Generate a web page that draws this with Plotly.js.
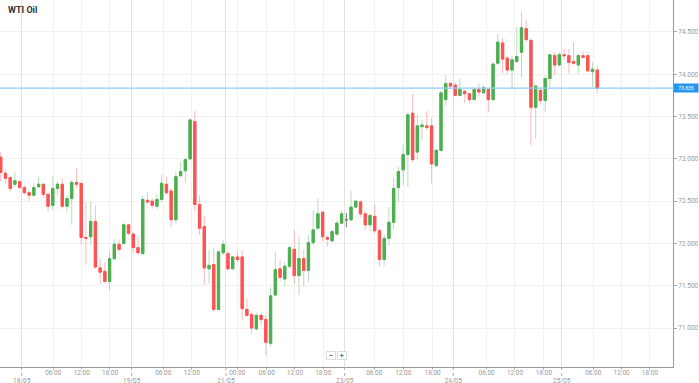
<!DOCTYPE html>
<html>
<head>
<meta charset="utf-8">
<script src="https://cdn.plot.ly/plotly-3.0.1.min.js"></script>
<style>html,body{margin:0;padding:0;background:#fff;}#chart{width:699px;height:383px;}</style>
</head>
<body>
<div id="chart"></div>
<script>
// WTI Oil hourly candles
const openP = [73.02,72.83,72.78,72.70,72.73,72.66,72.60,72.57,72.67,72.70,
72.58,72.45,72.65,72.70,72.44,72.53,72.72,72.71,72.07,72.08,
72.26,71.71,71.67,71.55,71.82,71.99,72.00,72.22,72.11,71.95,
71.88,72.51,72.50,72.44,72.52,72.70,72.62,72.28,72.80,72.86,
73.00,73.44,72.46,72.20,71.70,71.75,71.22,71.89,71.88,71.70,
71.84,71.84,71.22,71.16,70.99,71.15,71.10,70.82,71.39,71.70,
71.58,71.73,71.93,71.62,71.82,71.68,72.01,72.18,72.37,72.07,
72.03,72.11,72.24,72.28,72.28,72.43,72.49,72.35,72.22,72.32,
72.15,71.81,72.06,72.25,72.66,72.87,73.05,73.54,73.08,73.38,
73.39,73.39,72.92,73.10,73.70,73.89,73.87,73.75,73.80,73.77,
73.70,73.82,73.78,73.82,73.70,74.13,74.37,74.19,74.05,74.15,
74.26,74.54,74.40,73.61,73.81,73.69,73.95,74.22,74.11,74.23,
74.22,74.15,74.11,74.22,74.22,74.03,74.05];
const highP = [73.08,72.87,72.79,72.84,72.75,72.69,72.63,72.71,72.79,72.71,
72.59,72.79,72.73,72.77,72.57,72.75,72.89,72.72,72.49,72.49,
72.45,71.82,71.78,71.90,72.05,72.05,72.24,72.22,72.14,72.08,
72.56,72.60,72.53,72.58,72.81,72.79,72.65,72.85,72.96,73.01,
73.48,73.57,72.57,72.33,71.92,71.94,71.92,72.04,71.92,71.85,
71.90,71.92,71.35,71.19,71.18,71.18,71.15,71.48,71.90,71.80,
71.78,71.97,72.16,72.08,71.92,72.10,72.39,72.53,72.37,72.10,
72.16,72.27,72.39,72.36,72.62,72.51,72.51,72.39,72.35,72.46,
72.17,72.10,72.43,72.78,72.91,73.16,73.55,73.77,73.52,73.46,
73.57,73.48,73.12,73.80,73.99,73.92,73.91,73.95,73.81,73.78,
73.83,73.89,73.87,73.84,74.15,74.48,74.43,74.22,74.22,74.56,
74.74,74.64,74.43,73.88,73.85,73.99,74.24,74.26,74.26,74.30,
74.30,74.38,74.24,74.27,74.26,74.14,74.10];
const lowP = [72.73,72.71,72.61,72.67,72.65,72.58,72.50,72.55,72.66,72.54,
72.37,72.39,72.57,72.41,72.37,72.22,72.65,71.99,71.76,71.98,
71.70,71.52,71.53,71.45,71.80,71.90,71.98,72.10,71.88,71.86,
71.86,72.46,72.41,72.41,72.49,72.58,72.20,72.24,72.79,72.72,
72.98,72.38,72.10,71.51,71.53,71.19,71.21,71.86,71.68,71.70,
71.78,71.09,71.13,70.93,70.97,71.03,70.68,70.78,71.38,71.55,
71.49,71.70,71.52,71.39,71.49,71.55,71.98,72.16,72.02,71.96,
72.02,72.09,72.23,72.19,72.26,72.42,72.31,72.16,72.15,72.12,
71.73,71.74,71.98,72.17,72.49,72.69,72.67,72.96,72.99,73.22,
73.34,72.71,72.90,73.08,73.63,73.83,73.74,73.74,73.66,73.66,
73.69,73.74,73.77,73.55,73.69,74.11,74.01,74.01,73.83,74.14,
73.96,74.38,73.16,73.24,73.65,73.55,73.85,73.99,74.09,74.17,
74.01,74.11,74.01,74.19,74.03,73.85,73.77];
const closeP = [72.84,72.77,72.65,72.74,72.66,72.60,72.57,72.66,72.70,72.58,
72.44,72.65,72.70,72.44,72.53,72.72,72.70,72.07,72.06,72.26,
71.72,71.66,71.55,71.82,71.99,71.93,72.22,72.12,71.95,71.89,
72.52,72.49,72.45,72.52,72.71,72.60,72.28,72.79,72.85,72.99,
73.46,72.46,72.18,71.71,71.74,71.22,71.90,71.99,71.70,71.84,
71.81,71.23,71.15,71.00,71.15,71.10,70.83,71.38,71.69,71.60,
71.73,71.95,71.62,71.82,71.68,72.01,72.16,72.35,72.08,72.05,
72.14,72.24,72.35,72.28,72.43,72.50,72.35,72.22,72.33,72.15,
71.81,72.06,72.25,72.65,72.85,73.05,73.52,72.99,73.39,73.40,
73.37,72.94,73.10,73.78,73.89,73.86,73.75,73.82,73.77,73.70,
73.82,73.79,73.84,73.70,74.12,74.38,74.18,74.05,74.17,74.21,
74.55,74.41,73.61,73.86,73.69,73.95,74.23,74.11,74.23,74.22,
74.14,74.13,74.22,74.20,74.04,74.06,73.835];

// axis ticks (positions on the hourly-slot scale)
const timeTickPos  = [11.11,17.11,23.08,34.34,40.34,49.97,56.18,62.15,68.13,78.90,85.03,91.23,102.64,108.62,114.74,125.15,131.15,137.13];
const timeTickText = ['06:00','12:00','18:00','06:00','12:00','00:00','06:00','12:00','18:00','06:00','12:00','18:00','06:00','12:00','18:00','06:00','12:00','18:00'];
const dateTickPos  = [4.43,27.67,47.58,72.65,95.59,118.48];
const dateTickText = ['18/05','19/05','21/05','23/05','24/05','25/05'];
const priceTicks   = [71.0,71.5,72.0,72.5,73.0,73.5,74.0,74.5];
const title = 'WTI Oil';

const idx = openP.map((_, i) => i);
const normal = idx.filter(i => openP[i] !== closeP[i]);
const doji = idx.filter(i => openP[i] === closeP[i]);
const pick = (arr, ids) => ids.map(i => arr[i]);

const GREEN = '#4caf50', RED = '#ff5252';
const traces = [
  { // wicks (pale)
    type: 'candlestick', x: normal, open: pick(openP, normal), high: pick(highP, normal),
    low: pick(lowP, normal), close: pick(closeP, normal), width: 0.45, hoverinfo: 'skip',
    increasing: {line: {color: 'rgba(76,175,80,0.4)', width: 1}, fillcolor: 'rgba(76,175,80,0.4)'},
    decreasing: {line: {color: 'rgba(255,82,82,0.4)', width: 1}, fillcolor: 'rgba(255,82,82,0.4)'}
  },
  { // bodies (solid)
    type: 'candlestick', x: normal, open: pick(openP, normal),
    high: normal.map(i => Math.max(openP[i], closeP[i])),
    low: normal.map(i => Math.min(openP[i], closeP[i])),
    close: pick(closeP, normal), width: 0.45, hoverinfo: 'skip',
    increasing: {line: {color: GREEN, width: 1}, fillcolor: GREEN},
    decreasing: {line: {color: RED, width: 1}, fillcolor: RED}
  },
  { // doji
    type: 'candlestick', xaxis: 'x2', x: doji, open: pick(openP, doji), high: pick(highP, doji),
    low: pick(lowP, doji), close: pick(closeP, doji), width: 0.45, hoverinfo: 'skip',
    increasing: {line: {color: '#777', width: 1}, fillcolor: '#777'},
    decreasing: {line: {color: '#777', width: 1}, fillcolor: '#777'}
  }
];

const lastClose = closeP[closeP.length - 1];
const xRange = [-0.15, 142.0];
const tickFont = {family: 'Roboto, Arial, sans-serif', size: 6.5, color: '#999'};

const shapes = [
  {type: 'line', xref: 'paper', x0: 0, x1: 1.035, yref: 'y', y0: lastClose, y1: lastClose,
   line: {color: '#8ccdf5', width: 1.2}, layer: 'above'}
].concat(dateTickPos.map(p => ({
  type: 'line', xref: 'x', x0: p, x1: p, yref: 'paper', y0: 0, y1: -0.028,
  line: {color: '#aaa', width: 1, dash: 'dot'}
})));

const layout = {
  width: 699, height: 383,
  margin: {l: 0, r: 26, t: 0, b: 16},
  paper_bgcolor: '#fff', plot_bgcolor: '#fff',
  showlegend: false,
  xaxis: {
    range: xRange, tickmode: 'array', tickvals: timeTickPos, ticktext: timeTickText,
    showgrid: true, gridcolor: '#f1f1f1', gridwidth: 1, zeroline: false,
    showline: true, linecolor: '#999', linewidth: 1,
    ticks: 'outside', ticklen: 2, tickcolor: '#bbb', tickfont: tickFont, ticklabelstandoff: -3,
    rangeslider: {visible: false}, fixedrange: true
  },
  xaxis2: {
    overlaying: 'x', anchor: 'y', side: 'bottom', range: xRange,
    tickmode: 'array', tickvals: dateTickPos, ticktext: dateTickText,
    showgrid: true, gridcolor: '#e2e2e2', gridwidth: 1, zeroline: false,
    showline: false, ticks: '', tickfont: tickFont, ticklabelstandoff: 8,
    rangeslider: {visible: false}, fixedrange: true
  },
  yaxis: {
    side: 'right', range: [70.539, 74.878], tickmode: 'array', tickvals: priceTicks,
    tickformat: '.3f', showgrid: true, gridcolor: '#f1f1f1', zeroline: false,
    showline: true, linecolor: '#999', linewidth: 1,
    ticks: 'outside', ticklen: 3, tickcolor: '#aaa', tickfont: tickFont, fixedrange: true
  },
  shapes: shapes,
  annotations: [
    {xref: 'paper', yref: 'paper', x: 0.009, y: 0.973, xanchor: 'left', yanchor: 'middle',
     text: '<b>' + title + '</b>', showarrow: false,
     font: {family: 'Roboto, Arial, sans-serif', size: 9, color: '#333'}},
    {xref: 'paper', yref: 'y', x: 1, y: lastClose, xanchor: 'left', yanchor: 'middle',
     text: lastClose.toFixed(3), showarrow: false, bgcolor: '#2196f3', borderpad: 1,
     width: 22, height: 6,
     font: {family: 'Roboto, Arial, sans-serif', size: 5, color: '#fff'}},
    {xref: 'paper', yref: 'paper', x: 0.492, y: 0.03, xanchor: 'center', yanchor: 'middle',
     text: '−', showarrow: false, bgcolor: '#fff', bordercolor: '#ddd', borderwidth: 1,
     borderpad: 0, width: 8, height: 7, font: {family: 'Roboto, Arial, sans-serif', size: 8, color: '#333'}},
    {xref: 'paper', yref: 'paper', x: 0.508, y: 0.03, xanchor: 'center', yanchor: 'middle',
     text: '+', showarrow: false, bgcolor: '#fff', bordercolor: '#ddd', borderwidth: 1,
     borderpad: 0, width: 8, height: 7, font: {family: 'Roboto, Arial, sans-serif', size: 8, color: '#333'}}
  ]
};

Plotly.newPlot('chart', traces, layout, {displayModeBar: false, staticPlot: true});
</script>
</body>
</html>
